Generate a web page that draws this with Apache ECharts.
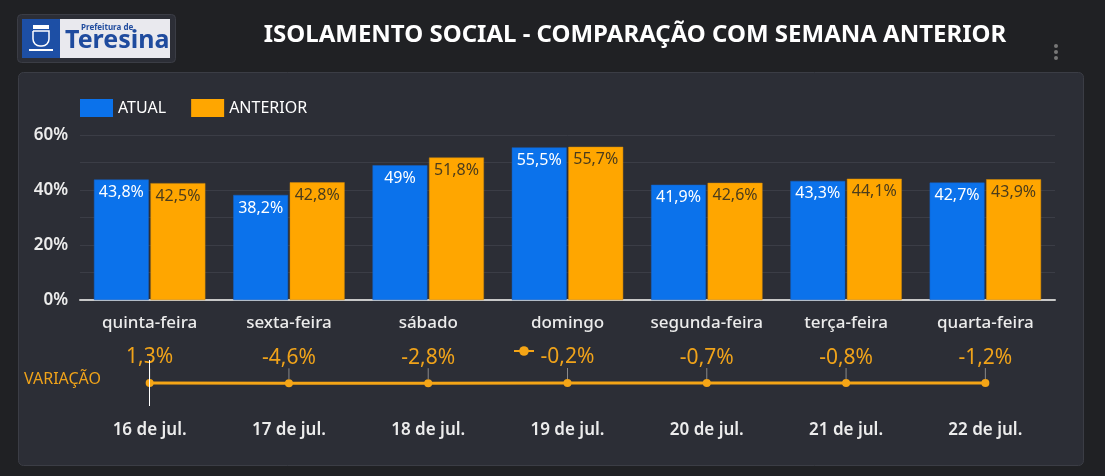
<!DOCTYPE html>
<html lang="pt">
  <head>
    <meta charset="UTF-8" />
    <title>Isolamento social</title>
    <script src="https://cdn.jsdelivr.net/npm/echarts@6/dist/echarts.min.js"></script>
    <style>
      html, body { margin: 0; padding: 0; background: #202124; }
      #chart { width: 1105px; height: 476px; }
    </style>
  </head>
  <body>
    <div id="chart"></div>
  </body>
  <script>
    const categories = ['quinta-feira', 'sexta-feira', 'sábado', 'domingo', 'segunda-feira', 'terça-feira', 'quarta-feira']
    const dates = ['16 de jul.', '17 de jul.', '18 de jul.', '19 de jul.', '20 de jul.', '21 de jul.', '22 de jul.']
    const atual = [43.8, 38.2, 49, 55.5, 41.9, 43.3, 42.7]
    const anterior = [42.5, 42.8, 51.8, 55.7, 42.6, 44.1, 43.9]
    const variacao = [1.3, -4.6, -2.8, -0.2, -0.7, -0.8, -1.2]

    const font = 'Noto Sans'
    const pct = v => String(v).replace('.', ',') + '%'

    const chart = echarts.init(document.getElementById('chart'))

    const option = {
      backgroundColor: '#202124',
      textStyle: { fontFamily: font },
      animation: false,
      title: {
        text: 'ISOLAMENTO SOCIAL - COMPARAÇÃO COM SEMANA ANTERIOR',
        left: 630,
        textAlign: 'center',
        top: 18,
        textStyle: { color: '#fff', fontSize: 24, fontWeight: 'bold', fontFamily: font }
      },
      graphic: [
        // painel do gráfico
        {
          type: 'rect', z: -10, silent: true,
          shape: { x: 18.5, y: 72.5, width: 1065, height: 393, r: 5 },
          style: { fill: '#2c2e36', stroke: '#3b3d45', lineWidth: 1 }
        },
        // logo
        {
          type: 'group', left: 17, top: 14, silent: true,
          children: [
            { type: 'rect', shape: { x: 0.5, y: 0.5, width: 158, height: 48, r: 4 }, style: { fill: '#2c2e36', stroke: '#3b3d45' } },
            { type: 'rect', shape: { x: 5, y: 5, width: 148, height: 39 }, style: { fill: '#e9e9ee' } },
            { type: 'rect', shape: { x: 5, y: 5, width: 38, height: 39 }, style: { fill: '#1d4fa5' } },
            { type: 'rect', shape: { x: 16, y: 11, width: 16, height: 4 }, style: { fill: '#fff' } },
            { type: 'rect', shape: { x: 16, y: 17, width: 16, height: 15, r: [0, 0, 7, 7] }, style: { fill: 'none', stroke: '#fff', lineWidth: 1.5 } },
            { type: 'rect', shape: { x: 12, y: 35, width: 24, height: 2 }, style: { fill: '#fff' } },
            { type: 'text', style: { x: 64, y: 10, text: 'Prefeitura de', fill: '#1f4b9e', font: 'bold 8px "Noto Sans"' } },
            { type: 'text', style: { x: 48, y: 14, text: 'Teresina', fill: '#1f4b9e', font: 'bold 25px "Noto Sans"' } }
          ]
        },
        // menu
        { type: 'circle', shape: { cx: 1056, cy: 46, r: 2 }, style: { fill: '#777' }, silent: true },
        { type: 'circle', shape: { cx: 1056, cy: 52, r: 2 }, style: { fill: '#777' }, silent: true },
        { type: 'circle', shape: { cx: 1056, cy: 58, r: 2 }, style: { fill: '#777' }, silent: true },
        {
          type: 'text', left: 24, top: 371, silent: true,
          style: { text: 'VARIAÇÃO', fill: '#f0a31a', font: '16px "Noto Sans"' }
        }
      ],
      legend: [
        {
          left: 80, top: 99, padding: 0,
          icon: 'rect',
          itemWidth: 33, itemHeight: 18, itemGap: 25,
          itemStyle: { borderWidth: 0 },
          data: ['ATUAL', 'ANTERIOR'],
          textStyle: { color: '#fff', fontSize: 16, fontFamily: font }
        },
        {
          left: 508, top: 340,
          itemWidth: 20, itemHeight: 12,
          data: ['VARIAÇÃO'],
          formatter: () => '',
          textStyle: { fontSize: 1 }
        }
      ],
      grid: [
        { left: 80, right: 50, top: 135, bottom: 176 },
        { left: 80, right: 50, top: 360, height: 46 }
      ],
      xAxis: [
        {
          type: 'category', gridIndex: 0, data: categories,
          axisLine: { lineStyle: { color: '#c8c8c8', width: 2 } },
          axisTick: { show: false },
          axisLabel: { interval: 0, color: '#ececec', fontSize: 17, fontWeight: 500, margin: 15, fontFamily: font }
        },
        {
          type: 'category', gridIndex: 1, data: dates,
          axisLine: { show: false },
          axisTick: { show: false },
          axisLabel: { interval: 0, color: '#ececec', fontSize: 17, fontWeight: 600, margin: 16, fontFamily: font }
        }
      ],
      yAxis: [
        {
          type: 'value', gridIndex: 0, min: 0, max: 60, interval: 10,
          axisLine: { show: false },
          axisTick: { show: false },
          splitLine: { lineStyle: { color: '#3b3d46', width: 1 } },
          axisLabel: {
            color: '#ececec', fontSize: 17, fontWeight: 600, margin: 12, fontFamily: font,
            formatter: v => (v % 20 === 0 ? v + '%' : '')
          }
        },
        { type: 'value', gridIndex: 1, min: -300, max: 300, show: false }
      ],
      series: [
        {
          name: 'ATUAL', type: 'bar', xAxisIndex: 0, yAxisIndex: 0,
          data: atual,
          barGap: '3%', barCategoryGap: '20%',
          itemStyle: { color: '#0b72eb', borderColor: '#1560c4', borderWidth: 0.5 },
          label: {
            show: true, position: 'insideTop', distance: 5,
            color: '#fff', fontSize: 16, fontFamily: font,
            formatter: p => pct(p.value)
          }
        },
        {
          name: 'ANTERIOR', type: 'bar', xAxisIndex: 0, yAxisIndex: 0,
          data: anterior,
          itemStyle: { color: '#ffa600', borderColor: '#d08a0a', borderWidth: 0.5 },
          label: {
            show: true, position: 'insideTop', distance: 5,
            color: '#4b3c1c', fontSize: 16, fontFamily: font,
            formatter: p => pct(p.value)
          }
        },
        {
          name: 'VARIAÇÃO', type: 'line', xAxisIndex: 1, yAxisIndex: 1,
          data: variacao,
          color: '#f5a516',
          lineStyle: { width: 3, color: '#f5a516' },
          symbol: 'circle', symbolSize: 8,
          itemStyle: { color: '#f5a516' },
          label: {
            show: true, position: 'top', distance: 4,
            color: '#f0a31a', fontSize: 21, fontFamily: font,
            formatter: p => pct(p.value)
          },
          labelLayout: { dy: -7 },
          labelLine: { show: true, lineStyle: { color: '#8a8a8a', width: 1 } },
          markLine: {
            silent: true, symbol: 'none',
            label: { show: false },
            lineStyle: { color: '#ffffff', type: 'solid', width: 1 },
            data: [{ xAxis: 0 }]
          }
        }
      ]
    }

    chart.setOption(option)
  </script>
</html>
